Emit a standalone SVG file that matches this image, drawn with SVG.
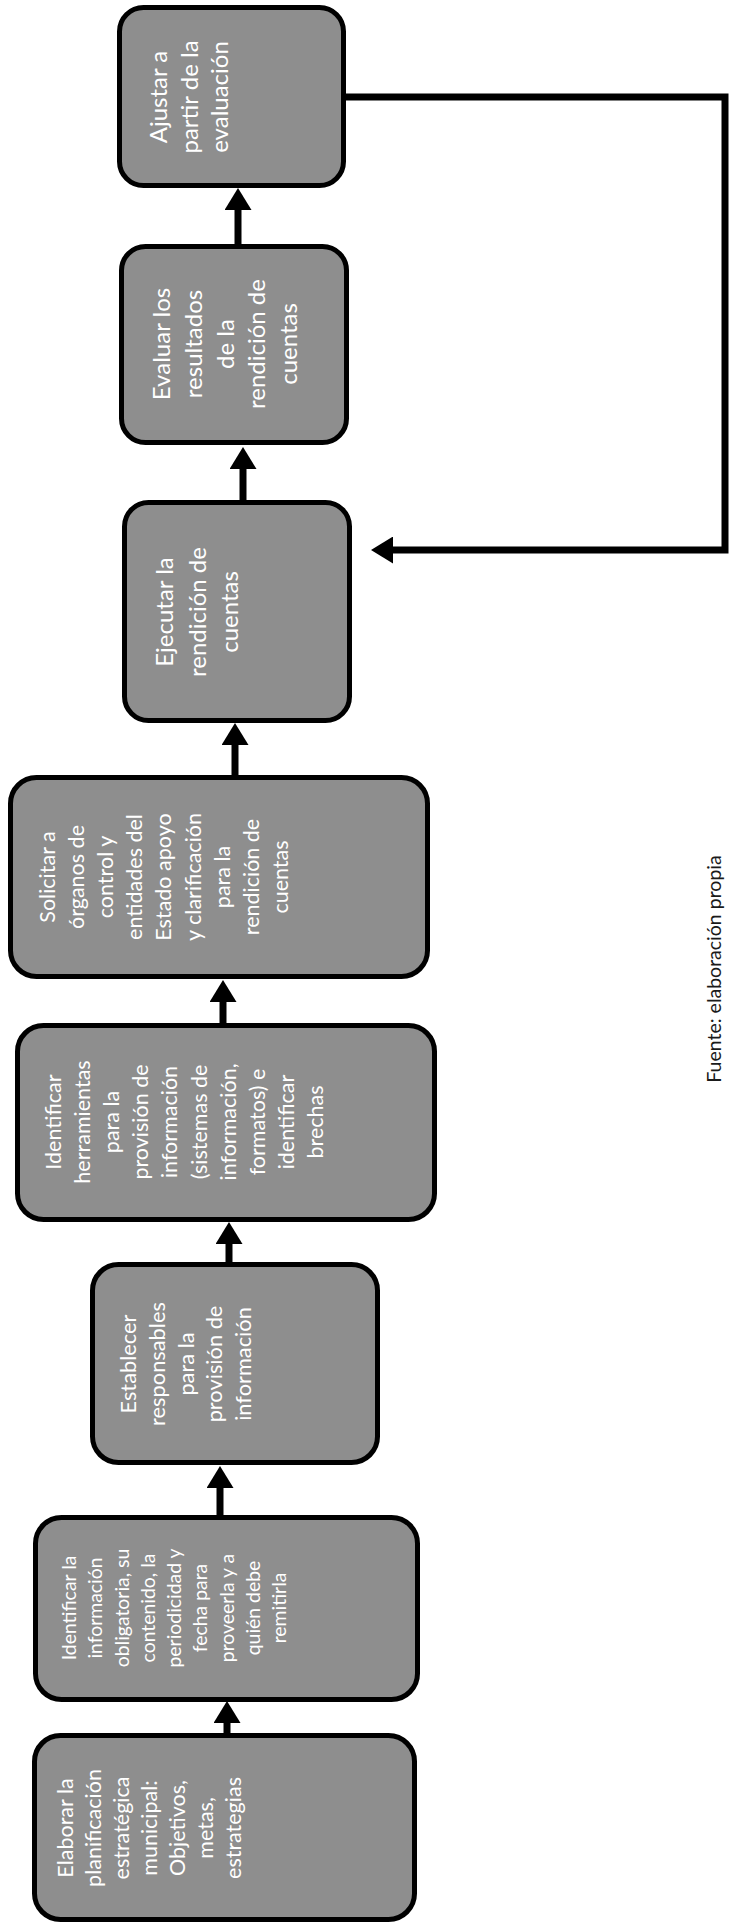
<svg xmlns="http://www.w3.org/2000/svg" width="731" height="1927" viewBox="0 0 731 1927">
<style>
.bg{fill:#fff}
.box{fill:#8e8e8e;stroke:#000;stroke-width:5}
.lbl{font-family:Lato,"Liberation Sans",sans-serif;fill:#fff;text-anchor:middle;dominant-baseline:central}
.conn{stroke:#000;stroke-width:7;fill:none;stroke-linejoin:miter}
.src{font-family:Lato,"Liberation Sans",sans-serif;fill:#1a1a1a;text-anchor:middle;dominant-baseline:central;font-size:19.5px}
</style>
<defs>
<marker id="ah" viewBox="0 0 22 27" refX="0" refY="13.5" markerWidth="22" markerHeight="27" markerUnits="userSpaceOnUse" orient="auto">
<path d="M0,0 L22,13.5 L0,27 z" fill="#000"/>
</marker>
</defs>
<rect class="bg" x="0" y="0" width="731" height="1927"/>

<g id="connectors">
<path class="conn" d="M227,1733 V1723" marker-end="url(#ah)"/>
<path class="conn" d="M220,1515 V1488" marker-end="url(#ah)"/>
<path class="conn" d="M229,1262 V1244" marker-end="url(#ah)"/>
<path class="conn" d="M223,1023 V1002" marker-end="url(#ah)"/>
<path class="conn" d="M235,775 V745" marker-end="url(#ah)"/>
<path class="conn" d="M243,500 V469" marker-end="url(#ah)"/>
<path class="conn" d="M238,244 V210" marker-end="url(#ah)"/>
<path class="conn" d="M346,97 H725 V550 H393" marker-end="url(#ah)"/>
</g>

<g id="n-ajustar">
<rect class="box" x="119.5" y="7.5" width="224" height="178" rx="24"/>
<g transform="translate(157,97) rotate(-90)"><text class="lbl" font-size="24"><tspan x="0" dy="0">Ajustar a</tspan><tspan x="0" dy="30.5">partir de la</tspan><tspan x="0" dy="30.5">evaluación</tspan></text></g>
</g>

<g id="n-evaluar">
<rect class="box" x="121.5" y="246.5" width="225" height="196" rx="24"/>
<g transform="translate(160,344) rotate(-90)"><text class="lbl" font-size="24"><tspan x="0" dy="0">Evaluar los</tspan><tspan x="0" dy="31.75">resultados</tspan><tspan x="0" dy="31.75">de la</tspan><tspan x="0" dy="31.75">rendición de</tspan><tspan x="0" dy="31.75">cuentas</tspan></text></g>
</g>

<g id="n-ejecutar">
<rect class="box" x="124.5" y="502.5" width="225" height="218" rx="24"/>
<g transform="translate(163,612) rotate(-90)"><text class="lbl" font-size="24"><tspan x="0" dy="0">Ejecutar la</tspan><tspan x="0" dy="32.5">rendición de</tspan><tspan x="0" dy="32.5">cuentas</tspan></text></g>
</g>

<g id="n-solicitar">
<rect class="box" x="10.5" y="777.5" width="417" height="199" rx="26"/>
<g transform="translate(47,877) rotate(-90)"><text class="lbl" font-size="21.5"><tspan x="0" dy="0">Solicitar a</tspan><tspan x="0" dy="29.1">órganos de</tspan><tspan x="0" dy="29.1">control y</tspan><tspan x="0" dy="29.1">entidades del</tspan><tspan x="0" dy="29.1">Estado apoyo</tspan><tspan x="0" dy="29.1">y clarificación</tspan><tspan x="0" dy="29.1">para la</tspan><tspan x="0" dy="29.1">rendición de</tspan><tspan x="0" dy="29.1">cuentas</tspan></text></g>
</g>

<g id="n-herramientas">
<rect class="box" x="17.5" y="1025.5" width="417" height="194" rx="26"/>
<g transform="translate(53,1122) rotate(-90)"><text class="lbl" font-size="21.5"><tspan x="0" dy="0">Identificar</tspan><tspan x="0" dy="29.1">herramientas</tspan><tspan x="0" dy="29.1">para la</tspan><tspan x="0" dy="29.1">provisión de</tspan><tspan x="0" dy="29.1">información</tspan><tspan x="0" dy="29.1">(sistemas de</tspan><tspan x="0" dy="29.1">información,</tspan><tspan x="0" dy="29.1">formatos) e</tspan><tspan x="0" dy="29.1">identificar</tspan><tspan x="0" dy="29.1">brechas</tspan></text></g>
</g>

<g id="n-establecer">
<rect class="box" x="92.5" y="1264.5" width="285" height="198" rx="26"/>
<g transform="translate(127,1364) rotate(-90)"><text class="lbl" font-size="21.8"><tspan x="0" dy="0">Establecer</tspan><tspan x="0" dy="28.75">responsables</tspan><tspan x="0" dy="28.75">para la</tspan><tspan x="0" dy="28.75">provisión de</tspan><tspan x="0" dy="28.75">información</tspan></text></g>
</g>

<g id="n-informacion">
<rect class="box" x="35.5" y="1517.5" width="382" height="182" rx="26"/>
<g transform="translate(68,1608) rotate(-90)"><text class="lbl" font-size="19.4"><tspan x="0" dy="0">Identificar la</tspan><tspan x="0" dy="26.25">información</tspan><tspan x="0" dy="26.25">obligatoria, su</tspan><tspan x="0" dy="26.25">contenido, la</tspan><tspan x="0" dy="26.25">periodicidad y</tspan><tspan x="0" dy="26.25">fecha para</tspan><tspan x="0" dy="26.25">proveerla y a</tspan><tspan x="0" dy="26.25">quién debe</tspan><tspan x="0" dy="26.25">remitirla</tspan></text></g>
</g>

<g id="n-elaborar">
<rect class="box" x="34.5" y="1735.5" width="380" height="184" rx="26"/>
<g transform="translate(65,1828) rotate(-90)"><text class="lbl" font-size="21.5"><tspan x="0" dy="0">Elaborar la</tspan><tspan x="0" dy="28">planificación</tspan><tspan x="0" dy="28">estratégica</tspan><tspan x="0" dy="28">municipal:</tspan><tspan x="0" dy="28">Objetivos,</tspan><tspan x="0" dy="28">metas,</tspan><tspan x="0" dy="28">estrategias</tspan></text></g>
</g>

<g id="source">
<text class="src" transform="translate(713,969) rotate(-90)">Fuente: elaboración propia</text>
</g>
</svg>
